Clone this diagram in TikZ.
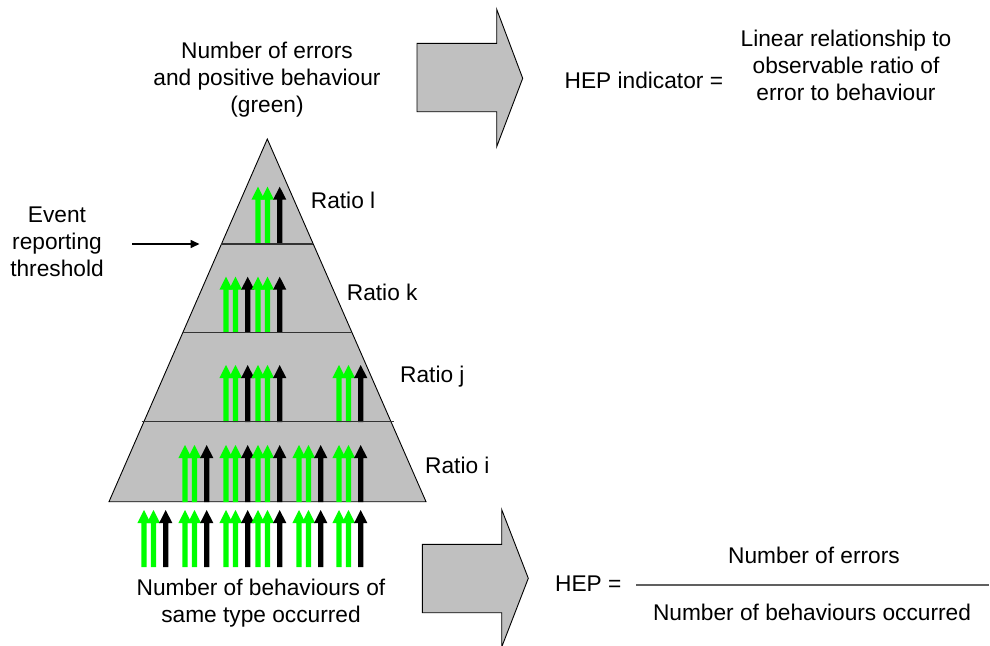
\documentclass[tikz,border=0pt]{standalone}
\usepackage{fontspec}
\setmainfont{Liberation Sans}
\usetikzlibrary{arrows.meta}

\definecolor{pyrgray}{HTML}{C0C0C0}
\definecolor{okgreen}{HTML}{00FF00}
\definecolor{rulegray}{HTML}{606060}

% one upward behaviour arrow: x, tip y, base y, colour
\newcommand\behav[4]{%
  \fill[#4] (#1-2.6,#3) -- (#1-2.6,#2+13) -- (#1-6.6,#2+13) -- (#1,#2)
    -- (#1+6.6,#2+13) -- (#1+2.6,#2+13) -- (#1+2.6,#3) -- cycle;}
% a group of two positive (green) behaviours and one error (black)
\newcommand\trio[3]{%
  \behav{#1}{#2}{#3}{okgreen}%
  \behav{#1+9.5}{#2}{#3}{okgreen}%
  \behav{#1+21.7}{#2}{#3}{black}}

\begin{document}
\begin{tikzpicture}[x=1pt,y=-1pt,
  txt/.style={inner sep=0pt,align=center,font=\fontsize{22.7}{27}\selectfont},
  bigarrow/.style={fill=pyrgray,draw=black,line width=0.9pt,line join=miter},
  layer/.style={draw=black!80,line width=1.2pt},
  pointer/.style={line width=1.6pt,-{Triangle[length=9pt,width=8pt]}}]

\useasboundingbox (0,0) rectangle (990,645);
\clip (0,0) rectangle (990,645);

% pyramid body
\filldraw[fill=pyrgray,draw=black,line width=0.9pt]
  (267.3,139) -- (426,501.7) -- (109,501.7) -- cycle;

% observed behaviours inside each layer
\trio{258}{186.7}{244}
\foreach \g in {226,258} {\trio{\g}{276.7}{332}}
\foreach \g in {226,258,339} {\trio{\g}{365}{422}}
\foreach \g in {185,226,258,299,339} {\trio{\g}{445}{502}}
% all behaviours that occurred
\foreach \g in {144,185,226,258,299,339} {\trio{\g}{510}{567}}

% layer boundaries
\draw[layer] (221,244) -- (312.7,244);
\draw[layer] (182.7,332.3) -- (352.3,332.3);
\draw[layer] (141.7,421.7) -- (394,421.7);

% labels
\node[txt] (top) at (267,80) {Number of errors\\and positive behaviour\\(green)};
\node[txt,anchor=west] (rl) at (310.7,200) {Ratio l};
\node[txt,anchor=west] (rk) at (346.7,292.7) {Ratio k};
\node[txt,anchor=west] (rj) at (400,376.7) {Ratio j};
\node[txt,anchor=west] (ri) at (425,465) {Ratio i};
\node[txt] (event) at (57,242) {Event\\reporting\\threshold};
\node[txt] (occ) at (261,603) {Number of behaviours of\\same type occurred};

% threshold pointer
\coordinate (thrA) at (132.3,244);
\coordinate (thrB) at (199.5,244);
\draw[pointer] (thrA) -- (thrB);

% block arrows
\draw[bigarrow] (417,43.3) -- (496.7,43.3) -- (496.7,9.3) -- (522.7,78.3)
  -- (496.7,146.7) -- (496.7,111.7) -- (417,111.7) -- cycle;
\draw[bigarrow] (422.3,544.3) -- (501.7,544.3) -- (501.7,509.6) -- (528.3,578.3)
  -- (501.7,647) -- (501.7,612.7) -- (422.3,612.7) -- cycle;

% HEP indicator statement
\node[txt,anchor=west] (hepi) at (564.5,80) {HEP indicator =};
\node[txt] (lin) at (846,65) {Linear relationship to\\observable ratio of\\error to behaviour};

% HEP definition
\node[txt] (hep) at (588.3,583.3) {HEP =};
\node[txt] (num) at (814,555) {Number of errors};
\node[txt] (den) at (812,612) {Number of behaviours occurred};
\coordinate (barL) at (636,585);
\coordinate (barR) at (989,585);
\draw[rulegray,line width=1.3pt] (barL) -- (barR);

\end{tikzpicture}
\end{document}
